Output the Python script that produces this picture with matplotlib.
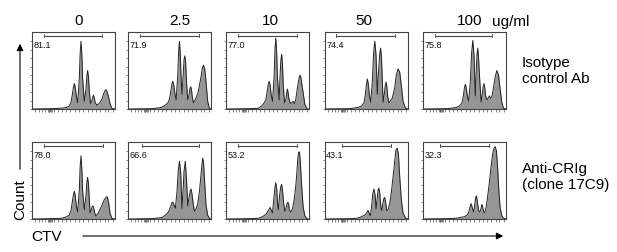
import numpy as np
import matplotlib
matplotlib.use("Agg")
from matplotlib import pyplot as plt
from matplotlib.patches import FancyArrowPatch

plt.rcParams["font.family"] = ["Liberation Sans", "DejaVu Sans"]

# 浓度 (列标题)
doses = ["0", "2.5", "10", "50", "100"]
unit = "ug/ml"
row_labels = ["Isotype\ncontrol Ab", "Anti-CRIg\n(clone 17C9)"]

# 门控百分比
iso_pct = ["81.1", "71.9", "77.0", "74.4", "75.8"]
anti_pct = ["78.0", "66.6", "53.2", "43.1", "32.3"]

# 门控范围 (CTV 轴上的 % 位置)
iso_gate_lo = [14, 15, 15, 13, 14]
iso_gate_hi = [84, 85, 85, 84, 83]
anti_gate_lo = [14, 17, 15, 20, 20]
anti_gate_hi = [85, 86, 85, 79, 80]

# 直方图轮廓 (x: CTV 通道 %, y: Count %)
iso_0_x = [0, 25, 35, 42, 45, 47, 48.5, 50, 51, 52, 53.5, 55, 57, 58, 59, 60, 61, 63, 65, 66, 67, 68, 69, 70.5,
           72, 73, 74, 75, 76, 78, 81, 84, 86, 88, 89, 90, 92, 94, 96, 100]
iso_0_y = [0, 0.5, 1, 2, 4, 9, 18, 29, 33, 29, 16, 8, 40, 72, 88, 72, 40, 10, 25, 42, 50, 42, 24, 7,
           10, 15, 18, 15, 9, 5, 7, 12, 19, 24, 25, 24, 17, 7, 1, 0]

iso_2_x = [0, 30, 40, 45, 48, 50, 52, 53, 54, 55, 56.5, 58, 60, 61, 62, 63, 64, 65, 66.5, 67.5, 68.5, 69.5, 70.5, 72,
           73.5, 74.5, 75.5, 76.5, 77.5, 79, 81, 84, 86, 88, 89.5, 91, 92.5, 94, 96, 98, 100]
iso_2_y = [0, 0.5, 2, 5, 8, 13, 26, 33, 36, 32, 20, 12, 45, 75, 88, 72, 40, 19, 45, 64, 69, 60, 35, 12,
           18, 26, 29, 25, 15, 8, 12, 20, 30, 42, 53, 57, 52, 35, 10, 1, 0]

iso_10_x = [0, 30, 39, 43, 46, 48, 49.5, 51, 52, 53, 54.5, 56, 58, 59, 60, 61, 62, 64, 65, 66, 67, 68, 69, 70.5,
            72, 73, 74, 75, 76, 78, 80, 81, 82.5, 84, 86, 88, 89, 90, 92, 95, 98, 100]
iso_10_y = [0, 0.5, 1, 4, 8, 12, 22, 32, 36, 32, 18, 10, 42, 78, 92, 75, 40, 12, 40, 62, 71, 60, 30, 8,
            12, 20, 26, 20, 12, 7, 9, 10, 7, 12, 27, 40, 44, 42, 28, 6, 0, 0]

iso_50_x = [0, 30, 40, 44, 47, 48.5, 50, 51, 52, 53.5, 55, 57, 58.5, 60, 61.5, 63, 64.5, 66, 67, 68, 69, 70,
            71.5, 72.5, 73.5, 74.5, 75.5, 77, 79, 81, 84, 86, 88, 90, 92, 94, 97, 100]
iso_50_y = [0, 0.5, 2, 4, 8, 18, 33, 39, 34, 18, 9, 35, 72, 88, 70, 19, 50, 72, 79, 68, 38, 9,
            20, 30, 35, 29, 17, 8, 11, 14, 28, 45, 52, 48, 30, 10, 1, 0]

iso_100_x = [0, 30, 40, 44, 47, 48.5, 50, 51, 52, 53.5, 55, 57, 58.5, 60, 61.5, 63, 64, 65, 66, 67, 68.5, 70,
             71.5, 72.5, 73.5, 74.5, 75.5, 77, 78.5, 80, 81.5, 83, 85, 87, 89, 91, 93, 95, 97, 100]
iso_100_y = [0, 0.5, 2, 4, 8, 16, 28, 32, 28, 17, 10, 35, 72, 89, 68, 17, 45, 70, 79, 65, 35, 9,
             20, 29, 33, 27, 17, 12, 14, 17, 14, 16, 28, 42, 50, 44, 25, 8, 1, 0]

anti_0_x = [0, 25, 36, 42, 45, 47, 48.5, 50, 51, 52, 53.5, 55, 57, 58, 59, 60, 61, 63, 65, 66, 67, 68, 69, 70,
            71.5, 72.5, 73.5, 74.5, 75.5, 77, 80, 84, 87, 89, 90, 91, 92.5, 94, 96, 100]
anti_0_y = [0, 0.5, 1, 3, 5, 11, 22, 32, 36, 31, 17, 9, 38, 68, 82, 66, 36, 12, 30, 47, 54, 46, 26, 8,
            12, 16, 17, 14, 8, 4, 8, 17, 25, 28, 29, 28, 20, 8, 1, 0]

anti_2_x = [0, 30, 41, 45, 48, 50, 52, 53, 54, 55, 56, 57, 59, 60.5, 62, 63.5, 65, 66.5, 67.5, 69, 70.5, 72,
            73.5, 75, 76, 77, 78.5, 80, 82, 84, 86, 87.5, 89, 90, 91, 92.5, 94, 96, 98, 100]
anti_2_y = [0, 0.5, 2, 5, 8, 12, 18, 21, 22, 20, 16, 14, 35, 62, 75, 60, 14, 40, 62, 75, 50, 17,
            28, 37, 39, 33, 20, 10, 13, 20, 35, 52, 70, 79, 74, 45, 18, 5, 1, 0]

anti_10_x = [0, 30, 39, 44, 48, 50, 52, 53, 54, 55, 56, 57.5, 59, 60, 61, 62, 63, 64.5, 66, 67, 68, 69.5, 71,
             72.5, 73.5, 74.5, 75.5, 76.5, 78, 80, 82, 84, 85.5, 86.5, 87.5, 88.5, 89.5, 91, 93, 95, 98, 100]
anti_10_y = [0, 0.5, 1, 3, 6, 9, 13, 15, 13, 10, 8, 25, 41, 47, 40, 22, 12, 30, 42, 45, 38, 20, 10,
             15, 20, 22, 19, 12, 9, 13, 24, 42, 62, 78, 87, 87, 75, 45, 15, 4, 0, 0]

anti_50_x = [0, 32, 38, 42, 46, 49, 50.5, 52, 53, 54.5, 56, 57.5, 59, 60.5, 61.5, 63, 64, 65, 66, 67.5, 68.5,
             70, 71, 72, 73, 74.5, 76, 78, 80, 82, 84, 85.5, 87, 88.5, 90, 92, 94, 97, 100]
anti_50_y = [0, 0.5, 1, 2, 4, 6, 9, 11, 8, 4, 14, 32, 39, 30, 13, 28, 38, 40, 33, 14, 11,
             22, 27, 28, 22, 11, 12, 20, 35, 55, 75, 90, 92, 84, 55, 25, 8, 1, 0]

anti_100_x = [0, 32, 40, 45, 50, 53, 55, 56.5, 58, 59.5, 61, 62.5, 63.5, 64.5, 65.5, 67, 68.5, 70, 71, 72, 73.5,
              75, 76.5, 78, 80, 82, 84, 85.5, 87, 88.5, 90, 91.5, 93, 95, 97, 100]
anti_100_y = [0, 0.5, 1, 2, 3, 5, 8, 15, 20, 14, 9, 20, 28, 30, 22, 11, 9, 14, 19, 15, 8,
              10, 18, 30, 48, 68, 85, 92, 94, 88, 65, 35, 14, 4, 1, 0]

# 坐标轴刻度 (biexponential 风格, 无标签)
x_ticks = [4, 8, 12, 16, 19, 20, 21, 22, 23, 24, 27, 31, 36, 41, 46, 52, 57, 62, 67, 72, 77, 82, 88, 92, 97]
y_ticks = [0, 11, 22, 33, 44, 55, 66, 77, 88]

rows = [
    (list(zip(
        [iso_0_x, iso_2_x, iso_10_x, iso_50_x, iso_100_x],
        [iso_0_y, iso_2_y, iso_10_y, iso_50_y, iso_100_y])),
     iso_pct, iso_gate_lo, iso_gate_hi),
    (list(zip(
        [anti_0_x, anti_2_x, anti_10_x, anti_50_x, anti_100_x],
        [anti_0_y, anti_2_y, anti_10_y, anti_50_y, anti_100_y])),
     anti_pct, anti_gate_lo, anti_gate_hi),
]

W, H = 617, 253
fig = plt.figure(figsize=(W / 100, H / 100), dpi=100)

panel_left = [32, 128, 226, 325, 423]
panel_w = 83
row_top = [33, 143]
panel_h = 77

for r, (curves, pcts, glo, ghi) in enumerate(rows):
    for c, (cx, cy) in enumerate(curves):
        ax = fig.add_axes([panel_left[c] / W, 1 - (row_top[r] + panel_h) / H,
                           panel_w / W, panel_h / H])
        ax.fill_between(cx, cy, 0, color="#969696", linewidth=0)
        ax.plot(cx, cy, color="#222222", linewidth=0.7)
        ax.set_xlim(0, 100)
        ax.set_ylim(0, 100)

        # 门控线
        gy = 95
        ax.plot([glo[c], ghi[c]], [gy, gy], color="#444444", linewidth=0.8)
        ax.plot([glo[c], glo[c]], [gy - 2, gy + 2], color="#444444", linewidth=0.6)
        ax.plot([ghi[c], ghi[c]], [gy - 2, gy + 2], color="#444444", linewidth=0.6)
        ax.text(1.5, 90, pcts[c], fontsize=6.5, ha="left", va="top", color="#111111")

        ax.set_xticks(x_ticks)
        ax.set_yticks(y_ticks)
        ax.set_xticklabels([])
        ax.set_yticklabels([])
        ax.tick_params(direction="out", length=1.8, width=0.5, colors="#555555")
        for s in ax.spines.values():
            s.set_color("#444444")
            s.set_linewidth(0.8)

# 列标题
header_x = [79, 180, 270, 364, 470]
for hx, d in zip(header_x, doses):
    fig.text(hx / W, 1 - 21 / H, d, fontsize=11, ha="center", va="center")
fig.text(511 / W, 1 - 22 / H, unit, fontsize=11, ha="center", va="center")

# 行标签
fig.text(522 / W, 1 - 71 / H, row_labels[0], fontsize=11, ha="left", va="center", linespacing=1.15)
fig.text(522 / W, 1 - 177 / H, row_labels[1], fontsize=11, ha="left", va="center", linespacing=1.15)

# 坐标箭头
fig.patches.append(FancyArrowPatch(
    (20 / W, 1 - 173 / H), (20 / W, 1 - 42 / H), transform=fig.transFigure,
    arrowstyle="-|>", mutation_scale=10, linewidth=0.8, color="black"))
fig.patches.append(FancyArrowPatch(
    (80 / W, 1 - 237 / H), (506 / W, 1 - 237 / H), transform=fig.transFigure,
    arrowstyle="-|>", mutation_scale=10, linewidth=0.8, color="black"))
fig.text(20 / W, 1 - 200 / H, "Count", fontsize=11, rotation=90, ha="center", va="center")
fig.text(46 / W, 1 - 237 / H, "CTV", fontsize=11, ha="center", va="center")

plt.savefig("out.png", dpi=100)
